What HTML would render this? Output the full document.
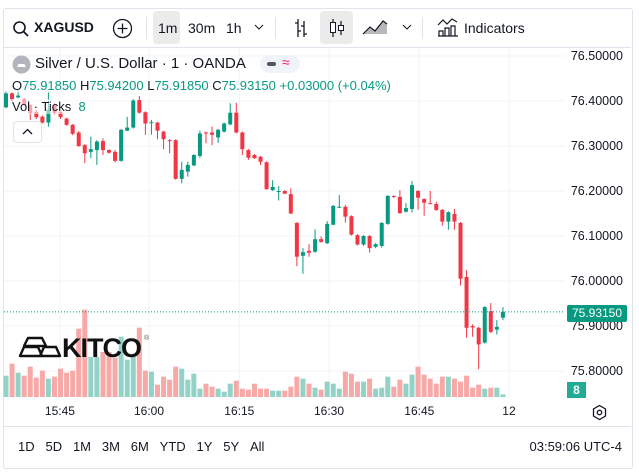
<!DOCTYPE html>
<html><head><meta charset="utf-8"><style>
body{margin:0;width:639px;height:472px;background:#fff;font-family:"Liberation Sans",sans-serif;color:#131722;overflow:hidden;position:relative}
.a{position:absolute;white-space:nowrap}
.frame{position:absolute;left:3px;top:8px;width:628px;height:459px;border:1px solid #e0e3eb;border-radius:3px}
.tb{font-size:14px}
.g{color:#089981}
.fade{background:rgba(255,255,255,0.55)}
</style></head><body>
<div class="frame"></div>
<div class="a" style="left:4px;top:47px;width:627px;height:1px;background:#e0e3eb"></div>
<!-- toolbar -->
<svg class="a" style="left:12px;top:20px" width="18" height="18"><circle cx="7.5" cy="7.5" r="5.5" fill="none" stroke="#131722" stroke-width="1.6"/><line x1="11.5" y1="11.5" x2="16" y2="16" stroke="#131722" stroke-width="1.8"/></svg>
<div class="a tb" style="left:34px;top:19px;font-weight:bold">XAGUSD</div>
<svg class="a" style="left:112px;top:18px" width="21" height="21"><circle cx="10.5" cy="10.5" r="9" fill="none" stroke="#131722" stroke-width="1.3"/><path d="M10.5 5.5v10M5.5 10.5h10" stroke="#131722" stroke-width="1.3"/></svg>
<div class="a" style="left:146px;top:17px;width:1px;height:22px;background:#e0e3eb"></div>
<div class="a" style="left:153px;top:11px;width:27px;height:33px;background:#ebebeb;border-radius:4px"></div>
<div class="a tb" style="left:158px;top:20px">1m</div>
<div class="a tb" style="left:188px;top:20px">30m</div>
<div class="a tb" style="left:226px;top:20px">1h</div>
<svg class="a" style="left:254px;top:24px" width="10" height="6"><path d="M1 1l4 4 4-4" fill="none" stroke="#131722" stroke-width="1"/></svg>
<div class="a" style="left:275px;top:17px;width:1px;height:22px;background:#e0e3eb"></div>
<svg class="a" style="left:293px;top:18px" width="16" height="20"><path d="M5 1v18M5 5h-3M5 13h3M11 3v16M11 8h-3M11 16h3" stroke="#131722" stroke-width="1.3" fill="none"/></svg>
<div class="a" style="left:320px;top:11px;width:33px;height:33px;background:#ebebeb;border-radius:4px"></div>
<svg class="a" style="left:329px;top:18px" width="16" height="20"><path d="M4 1v18M12 3v14" stroke="#131722" stroke-width="1.2"/><rect x="1.5" y="4.5" width="5" height="10" fill="#fff" stroke="#131722"/><rect x="9.5" y="7.5" width="5" height="5" fill="#fff" stroke="#131722"/></svg>
<svg class="a" style="left:362px;top:18px" width="26" height="18"><path d="M1 16L8 9l5 4 8-10 4 3v10z" fill="#888" opacity=".6"/><path d="M1 16L8 9l5 4 8-10 4 3" fill="none" stroke="#131722" stroke-width="1.2"/></svg>
<svg class="a" style="left:402px;top:24px" width="10" height="6"><path d="M1 1l4 4 4-4" fill="none" stroke="#131722" stroke-width="1"/></svg>
<div class="a" style="left:422px;top:17px;width:1px;height:22px;background:#e0e3eb"></div>
<svg class="a" style="left:437px;top:17px" width="22" height="20"><path d="M1 8l5-5 4 4 5-5 5 3" fill="none" stroke="#131722" stroke-width="1.2"/><path d="M2 19v-5h4v5M8 19v-8h4v8M14 19v-10h4v10M1 19h20" fill="none" stroke="#131722" stroke-width="1.2"/></svg>
<div class="a" style="left:464px;top:20px;font-size:14px">Indicators</div>

<!-- chart -->
<svg id="chart" class="a" style="left:0;top:0" width="639" height="472"></svg>

<!-- legend -->
<svg class="a" style="left:12px;top:55px" width="19" height="19"><circle cx="9.5" cy="9.5" r="9" fill="#b2b5be"/><path d="M5 12h9l-1.5-3h-6z" fill="#fff"/></svg>
<div class="a" style="left:35px;top:55px;font-size:15px">Silver / U.S. Dollar · 1 · OANDA</div>
<div class="a" style="left:260px;top:55px;width:40px;height:18px;background:#f0f3fa;border-radius:9px"><span class="a" style="left:7px;top:7px;width:9px;height:4px;background:#555;border-radius:2px"></span><span class="a" style="left:22px;top:-1px;font-size:14px;color:#e91e63">≈</span></div>
<div class="a fade" style="left:12px;top:78px;font-size:13px;padding-right:2px">O<span class="g">75.91850</span> H<span class="g">75.94200</span> L<span class="g">75.91850</span> C<span class="g">75.93150</span> <span class="g">+0.03000 (+0.04%)</span></div>
<div class="a fade" style="left:12px;top:99px;font-size:13px;padding-right:2px">Vol · Ticks <span class="g">&nbsp;8</span></div>
<div class="a" style="left:13px;top:121px;width:27px;height:20px;border:1px solid #e0e3eb;border-radius:4px;background:#fff"><svg class="a" style="left:8px;top:6px" width="11" height="7"><path d="M1 6l4.5-4.5L10 6" fill="none" stroke="#131722" stroke-width="1.3"/></svg></div>

<!-- kitco logo -->
<svg class="a" style="left:18px;top:336px" width="44" height="23"><path d="M10 2h14l4 8H6z M2 20l4-9h14l4 9z M22 20l4-9h12l4 9z" fill="none" stroke="#111" stroke-width="2.4" stroke-linejoin="round"/></svg>
<div class="a" style="left:62px;top:333px;font-size:27px;font-weight:bold;color:#111;letter-spacing:-1px">KITCO</div>
<div class="a" style="left:144px;top:335px;font-size:7px;color:#555">®</div>

<!-- price label -->
<div class="a" style="left:567px;top:305px;width:60px;height:17px;background:#089981;border-radius:2px;color:#fff;font-size:12px;text-align:center;line-height:17px">75.93150</div>
<div class="a" style="left:567px;top:382px;width:19px;height:16px;background:#22ab94;color:#fff;font-size:12px;text-align:center;line-height:16px;font-weight:bold">8</div>
<svg class="a" style="left:591px;top:404px" width="17" height="17"><path d="M8.5 1.5l6 3.5v7l-6 3.5-6-3.5v-7z" fill="none" stroke="#131722" stroke-width="1.3"/><circle cx="8.5" cy="8.5" r="2.2" fill="none" stroke="#131722" stroke-width="1.3"/></svg>

<!-- bottom bar -->
<div class="a" style="left:4px;top:426px;width:627px;height:1px;background:#e0e3eb"></div>
<div class="a" style="left:18px;top:439px;font-size:13px;word-spacing:0">
<span>1D</span>&nbsp;&nbsp;&nbsp;<span>5D</span>&nbsp;&nbsp;&nbsp;<span>1M</span>&nbsp;&nbsp;&nbsp;<span>3M</span>&nbsp;&nbsp;&nbsp;<span>6M</span>&nbsp;&nbsp;&nbsp;<span>YTD</span>&nbsp;&nbsp;&nbsp;<span>1Y</span>&nbsp;&nbsp;&nbsp;<span>5Y</span>&nbsp;&nbsp;&nbsp;<span>All</span></div>
<div class="a" style="right:17px;top:439px;font-size:13px">03:59:06 UTC-4</div>

<script>
const opens=[76.386,76.417,76.408,76.404,76.391,76.376,76.365,76.352,76.391,76.376,76.361,76.347,76.330,76.302,76.287,76.291,76.311,76.291,76.287,76.267,76.334,76.341,76.402,76.375,76.351,76.352,76.332,76.313,76.313,76.227,76.243,76.257,76.278,76.330,76.330,76.319,76.332,76.348,76.374,76.330,76.291,76.280,76.276,76.264,76.202,76.199,76.200,76.193,76.129,76.056,76.067,76.065,76.093,76.084,76.125,76.163,76.165,76.144,76.102,76.081,76.100,76.076,76.078,76.127,76.189,76.187,76.154,76.160,76.200,76.182,76.173,76.171,76.158,76.132,76.149,76.129,76.009,75.900,75.896,75.863,75.933,75.892,75.9185];
const highs=[76.421,76.420,76.424,76.406,76.393,76.380,76.368,76.421,76.395,76.378,76.363,76.349,76.333,76.304,76.321,76.313,76.317,76.293,76.291,76.338,76.365,76.404,76.411,76.377,76.358,76.354,76.334,76.315,76.315,76.265,76.265,76.282,76.334,76.332,76.343,76.338,76.352,76.395,76.396,76.332,76.293,76.282,76.278,76.266,76.224,76.211,76.202,76.206,76.131,76.073,76.082,76.115,76.099,76.133,76.169,76.191,76.169,76.146,76.104,76.102,76.102,76.084,76.131,76.191,76.190,76.202,76.173,76.222,76.202,76.184,76.200,76.176,76.160,76.155,76.160,76.131,76.024,75.904,75.898,75.944,75.951,75.913,75.942];
const lows=[76.384,76.400,76.406,76.389,76.358,76.360,76.350,76.343,76.370,76.360,76.345,76.324,76.298,76.262,76.273,76.258,76.280,76.283,76.264,76.265,76.333,76.339,76.372,76.325,76.325,76.315,76.293,76.284,76.225,76.217,76.232,76.255,76.273,76.306,76.302,76.307,76.330,76.346,76.328,76.280,76.269,76.271,76.258,76.203,76.200,76.179,76.193,76.149,76.033,76.016,76.054,76.063,76.085,76.082,76.124,76.162,76.130,76.101,76.079,76.078,76.063,76.073,76.074,76.125,76.184,76.149,76.152,76.152,76.158,76.145,76.171,76.156,76.123,76.114,76.114,75.990,75.874,75.876,75.804,75.861,75.884,75.881,75.913];
const closes=[76.417,76.404,76.412,76.391,76.373,76.364,76.352,76.381,76.373,76.364,76.347,76.327,76.300,76.284,76.293,76.310,76.291,76.285,76.267,76.336,76.341,76.401,76.374,76.350,76.353,76.334,76.315,76.312,76.227,76.247,76.258,76.280,76.328,76.328,76.325,76.336,76.350,76.374,76.330,76.293,76.274,76.273,76.265,76.204,76.209,76.200,76.194,76.150,76.054,76.064,76.063,76.093,76.087,76.127,76.167,76.165,76.143,76.103,76.081,76.100,76.073,76.082,76.129,76.189,76.187,76.151,76.162,76.213,76.185,76.174,76.172,76.158,76.132,76.153,76.132,76.005,75.896,75.897,75.859,75.942,75.887,75.898,75.9315];
const volumes=[64,100,73,64,91,58,79,55,61,85,73,79,205,262,120,120,135,135,118,181,112,121,208,79,76,37,61,52,91,85,52,70,25,40,31,25,16,40,49,25,22,40,25,25,19,19,19,31,61,55,40,28,22,46,40,25,76,70,46,46,55,25,28,61,31,52,40,67,91,67,55,40,61,61,55,46,64,28,37,25,28,28,8];
const priceTicks=[76.5,76.4,76.3,76.2,76.1,76.0,75.9,75.8];
const timeLabels=["15:45","16:00","16:15","16:30","16:45","12"];
const timeLabelIdx=[8.9,23.6,38.5,53.3,68.2,83];
const lastPrice=75.9315;

const NS="http://www.w3.org/2000/svg";
const svg=document.getElementById('chart');
const yP=p=>56+(76.5-p)*450;
const xI=i=>6+6.06*i;
const yV=v=>397-v/3;
function mk(t,a){const e=document.createElementNS(NS,t);for(const k in a)e.setAttribute(k,a[k]);svg.appendChild(e);return e;}
priceTicks.forEach(p=>{
  const l=mk('line',{x1:4,x2:565,y1:yP(p),y2:yP(p),stroke:'#f0f3fa','stroke-width':1});
  
  
  const t=mk('text',{x:623,y:yP(p)+4,'text-anchor':'end','font-size':12.5,fill:'#131722','font-family':'Liberation Sans, sans-serif'});
  t.textContent=p.toFixed(5);
  
  
});
timeLabels.forEach((s,k)=>{
  const x=xI(timeLabelIdx[k]);
  const l=mk('line',{x1:x,x2:x,y1:48,y2:398,stroke:'#f0f3fa','stroke-width':1});
  
  
  const t=mk('text',{x:x,y:415,'text-anchor':'middle','font-size':12,fill:'#131722','font-family':'Liberation Sans, sans-serif'});
  t.textContent=s;
  
  
});
volumes.forEach((v,i)=>{
  const up=closes[i]>=opens[i];
  const r=mk('rect',{x:xI(i)-2.5,y:yV(v),width:5,height:397-yV(v),fill:up?'#92d2c7':'#f7a9a7'});
  
  
});
opens.forEach((o,i)=>{
  const c=closes[i],up=c>=o,col=up?'#089981':'#f23645',x=xI(i);
  const w=mk('line',{x1:x,x2:x,y1:yP(highs[i]),y2:yP(lows[i]),stroke:col,'stroke-width':1});
  
  
  const top=yP(Math.max(o,c)),bot=yP(Math.min(o,c));
  const b=mk('rect',{x:x-2,y:top,width:4,height:Math.max(1,bot-top),fill:col});
  
  
});
const pl=mk('line',{x1:4,x2:565,y1:yP(lastPrice),y2:yP(lastPrice),stroke:'#089981','stroke-width':1,'stroke-dasharray':'1 2'});


</script>
</body></html>
